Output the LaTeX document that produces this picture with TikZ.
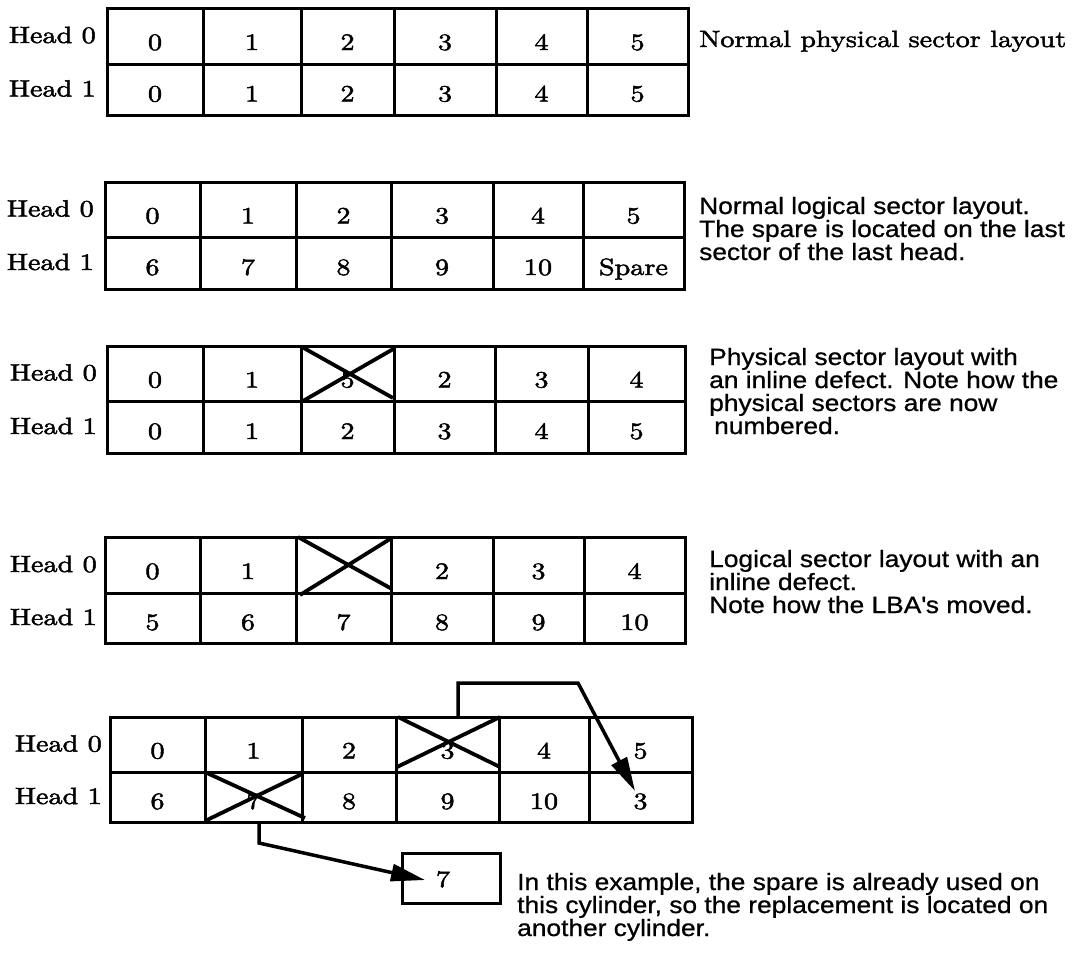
\documentclass[tikz,border=0pt]{standalone}
\usepackage{fontspec}
\newfontfamily\serw{lmroman10-regular.otf}[FakeStretch=1.2,FakeBold=2]
\newfontfamily\sansw{Liberation Sans}[FakeStretch=1.12,FakeBold=0.8]
\usetikzlibrary{arrows.meta}
\tikzset{
  gridline/.style={line width=3pt},
  crossline/.style={line width=3.8pt},
  num/.style={font={\serw\fontsize{23.5}{23.5}\selectfont}, anchor=base, inner sep=0pt},
  headlbl/.style={font={\serw\fontsize{23.5}{23.5}\selectfont}, anchor=base east, inner sep=0pt},
  serifnote/.style={font={\serw\fontsize{23.5}{23.5}\selectfont}, anchor=base west, inner sep=0pt},
  note/.style={font={\sansw\fontsize{23.5}{23}\selectfont}, anchor=base west, align=left, inner sep=0pt},
  conn/.style={line width=3.5pt, -{Triangle[length=34pt,width=17pt]}},
  sparebox/.style={draw, line width=3pt, minimum width=98pt, minimum height=50pt, inner sep=0pt},
}
\newcommand\sgrid[6]{%
  \foreach \xa/\xb/\ta/\tb [count=\i] in {#5}{
    \node[num] (#1a\i) at ({(\xa+\xb)/2},{(#2+#3)/2+14}) {\ta};
    \node[num] (#1b\i) at ({(\xa+\xb)/2},{(#3+#4)/2+12}) {\tb};
    \draw[gridline] (\xa,#2) rectangle (\xb,#3) (\xa,#3) rectangle (\xb,#4);
  }
  \node[headlbl] (#1h0) at (#6,{(#2+#3)/2+7}) {Head 0};
  \node[headlbl] (#1h1) at (#6,{(#3+#4)/2+7}) {Head 1};
}
\begin{document}
\begin{tikzpicture}[x=1pt,y=-1pt]
\fill[white] (0,0) rectangle (1086,956);
\useasboundingbox (0,0) rectangle (1086,956);

% grid 1
\sgrid{ga}{8}{64}{115}{107/203/0/0,203/301/1/1,301/394/2/2,394/496/3/3,496/587/4/4,587/688/5/5}{96}
\node[serifnote] (n1) at (699,47) {Normal physical sector layout};

% grid 2
\sgrid{gb}{182}{237}{289}{105/200/0/6,200/296/1/7,296/391/2/8,391/493/3/9,493/583/4/10,583/684/5/Spare}{94}
\node[note] (n2) at (699,260) {Normal logical sector layout.\\The spare is located on the last\\sector of the last head.};

% grid 3
\sgrid{gc}{346}{401}{453}{107/203/0/0,203/301/1/1,301/394/5/2,394/495/2/3,495/588/3/4,588/685/4/5}{97}
\draw[crossline] (302,347) -- (393,398) (303,401) -- (395,348);
\node[note] (n3) at (709,434) {Physical sector layout with\\an inline defect. Note how the\\physical sectors are now\\\hspace*{5pt}numbered.};

% grid 4
\sgrid{gd}{537}{593}{643}{105/200/0/5,200/296/1/6,296/391//7,391/493/2/8,493/584/3/9,584/685/4/10}{97}
\draw[crossline] (298,537) -- (392,589) (300,595) -- (390,539);
\node[note] (n4) at (709,613) {Logical sector layout with an\\inline defect.\\Note how the LBA\textquotesingle s moved.};

% grid 5
\sgrid{ge}{717}{772}{822}{110/205/0/6,205/302/1/7,302/396/2/8,396/499/3/9,499/589/4/10,589/692/5/3}{102}
\draw[crossline] (398,717) -- (500,767) (397,767) -- (500,717);
\draw[crossline] (207,773) -- (305,818) (207,820) -- (302,774);

% replacement box
\node[sparebox] (b7) at (451,878) {};
\node[num] (n7) at (443,887) {7};

% connectors
\coordinate (s1) at (458,717);
\coordinate (k1) at (578,683);
\coordinate (t1) at (635,791);
\draw[conn] (s1) |- (k1) -- (t1);
\coordinate (s2) at (259,822);
\coordinate (k2) at (259,843);
\coordinate (t2) at (425,880);
\draw[conn] (s2) -- (k2) -- (t2);

\node[note] (n5) at (517,936) {In this example, the spare is already used on\\this cylinder, so the replacement is located on\\another cylinder.};
\end{tikzpicture}
\end{document}
